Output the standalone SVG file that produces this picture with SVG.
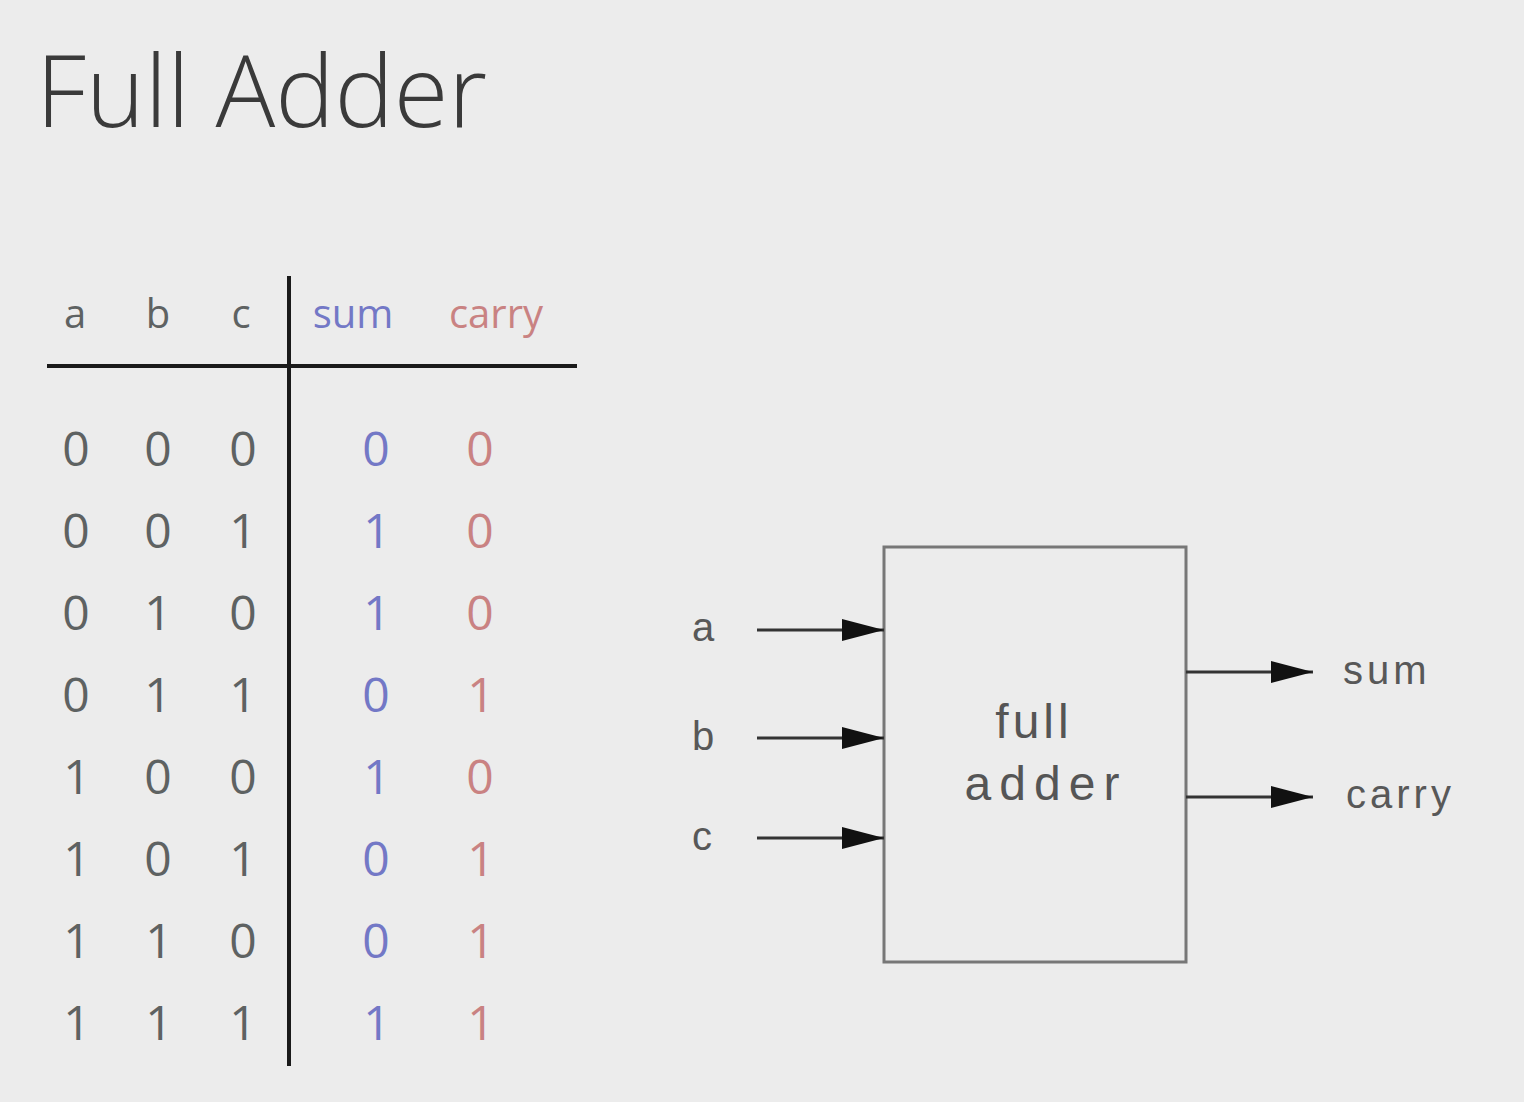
<svg xmlns="http://www.w3.org/2000/svg" width="1524" height="1102" viewBox="0 0 1524 1102">
<defs>
<style>
.title{font-family:"Open Sans","Liberation Sans",sans-serif;font-size:100px;font-weight:300;fill:#3a3a3a}
.hd{font-family:"Open Sans","Liberation Sans",sans-serif;font-size:40px;text-anchor:middle}
.dg{font-family:"Open Sans","Liberation Sans",sans-serif;font-size:48px;text-anchor:middle}
.in{fill:#5e6262}
.sum{fill:#7378c6}
.car{fill:#c98282}
.lbl{font-family:"Liberation Sans",Arial,sans-serif;font-size:40px;fill:#585858}
.box{font-family:"Liberation Sans",Arial,sans-serif;font-size:48px;fill:#555;text-anchor:middle}
.wire{stroke:#333;stroke-width:3;fill:none}
.rule{stroke:#1a1a1a;stroke-width:4}
</style>
<marker id="ah" markerWidth="42" markerHeight="22" refX="42" refY="11" orient="auto" markerUnits="userSpaceOnUse" viewBox="0 0 42 22">
<path d="M0,0 L42,11 L0,22 Z" fill="#111"/>
</marker>
</defs>
<rect width="1524" height="1102" fill="#ececec"/>
<text class="title" x="36" y="127" textLength="451" lengthAdjust="spacingAndGlyphs">Full Adder</text>

<g id="truth-table">
<line class="rule" x1="47" y1="366" x2="577" y2="366"/>
<line class="rule" x1="289" y1="276" x2="289" y2="1066"/>
<text class="hd in" x="75" y="328">a</text>
<text class="hd in" x="158" y="328">b</text>
<text class="hd in" x="241" y="328">c</text>
<text class="hd sum" x="353" y="328">sum</text>
<text class="hd car" x="496" y="328">carry</text>
<g class="dg">
<text class="in" x="76" y="466">0</text><text class="in" x="158" y="466">0</text><text class="in" x="243" y="466">0</text><text class="sum" x="376" y="466">0</text><text class="car" x="480" y="466">0</text>
<text class="in" x="76" y="548">0</text><text class="in" x="158" y="548">0</text><text class="in" x="243" y="548">1</text><text class="sum" x="377" y="548">1</text><text class="car" x="480" y="548">0</text>
<text class="in" x="76" y="630">0</text><text class="in" x="158" y="630">1</text><text class="in" x="243" y="630">0</text><text class="sum" x="377" y="630">1</text><text class="car" x="480" y="630">0</text>
<text class="in" x="76" y="712">0</text><text class="in" x="158" y="712">1</text><text class="in" x="243" y="712">1</text><text class="sum" x="376" y="712">0</text><text class="car" x="481" y="712">1</text>
<text class="in" x="77" y="794">1</text><text class="in" x="158" y="794">0</text><text class="in" x="243" y="794">0</text><text class="sum" x="377" y="794">1</text><text class="car" x="480" y="794">0</text>
<text class="in" x="77" y="876">1</text><text class="in" x="158" y="876">0</text><text class="in" x="243" y="876">1</text><text class="sum" x="376" y="876">0</text><text class="car" x="481" y="876">1</text>
<text class="in" x="77" y="958">1</text><text class="in" x="159" y="958">1</text><text class="in" x="243" y="958">0</text><text class="sum" x="376" y="958">0</text><text class="car" x="481" y="958">1</text>
<text class="in" x="77" y="1040">1</text><text class="in" x="159" y="1040">1</text><text class="in" x="243" y="1040">1</text><text class="sum" x="377" y="1040">1</text><text class="car" x="481" y="1040">1</text>
</g>
</g>

<g id="full-adder">
<rect x="884" y="547" width="302" height="415" fill="#ececec" stroke="#777" stroke-width="3"/>
<text class="box" x="1034" y="738" letter-spacing="4">full</text>
<text class="box" x="1046" y="800" letter-spacing="8">adder</text>
</g>

<g id="input-labels">
<text class="lbl" x="692" y="641">a</text>
<text class="lbl" x="692" y="750">b</text>
<text class="lbl" x="692" y="850">c</text>
</g>
<g id="output-labels">
<text class="lbl" x="1343" y="684" letter-spacing="4">sum</text>
<text class="lbl" x="1346" y="808" letter-spacing="4">carry</text>
</g>

<g id="connectors">
<line class="wire" x1="757" y1="630" x2="884" y2="630" marker-end="url(#ah)"/>
<line class="wire" x1="757" y1="738" x2="884" y2="738" marker-end="url(#ah)"/>
<line class="wire" x1="757" y1="838" x2="884" y2="838" marker-end="url(#ah)"/>
<line class="wire" x1="1186" y1="672" x2="1313" y2="672" marker-end="url(#ah)"/>
<line class="wire" x1="1186" y1="797" x2="1313" y2="797" marker-end="url(#ah)"/>
</g>
</svg>
